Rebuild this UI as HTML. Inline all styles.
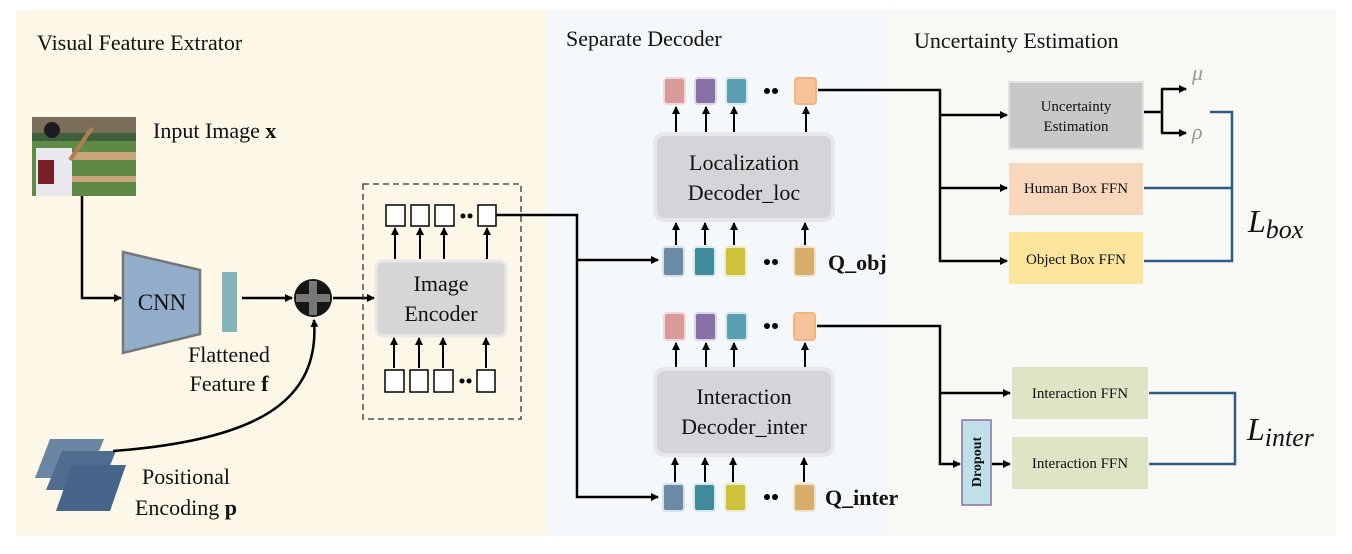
<!DOCTYPE html>
<html><head><meta charset="utf-8"><style>
body{margin:0;background:#fff;}
svg{display:block;}
text{font-family:"Liberation Serif",serif;fill:#111;}
</style></head><body>
<svg width="1352" height="554" viewBox="0 0 1352 554" xmlns="http://www.w3.org/2000/svg">
<defs>
<marker id="a" markerWidth="8" markerHeight="8" refX="7" refY="4" orient="auto" markerUnits="userSpaceOnUse"><path d="M0,0 L8,4 L0,8 z" fill="#000"/></marker>
</defs>
<rect x="16" y="10" width="530" height="526" fill="#fdf7e8"/>
<rect x="546" y="10" width="340" height="526" fill="#f4f8fb"/>
<rect x="886" y="10" width="450" height="526" fill="#f8f8f4"/>

<text x="37" y="50" font-size="22">Visual Feature Extrator</text>
<text x="566" y="46" font-size="22">Separate Decoder</text>
<text x="914" y="48" font-size="22">Uncertainty Estimation</text>

<!-- input image -->
<rect x="32" y="117" width="104" height="79" fill="#5f8a45"/>
<rect x="32" y="117" width="104" height="16" fill="#7a6d5a"/>
<rect x="32" y="133" width="104" height="8" fill="#3f5e3a"/>
<rect x="60" y="152" width="76" height="8" fill="#c9a37a"/>
<rect x="70" y="176" width="66" height="6" fill="#c9a37a"/>
<rect x="36" y="148" width="36" height="48" fill="#e8e8ee"/>
<rect x="38" y="160" width="16" height="24" fill="#7a1f25"/>
<circle cx="52" cy="130" r="8" fill="#1c1c22"/>
<line x1="70" y1="160" x2="92" y2="128" stroke="#b08050" stroke-width="4"/>
<text x="153" y="138" font-size="22">Input Image <tspan font-weight="bold">x</tspan></text>

<path d="M82,196 V298 H121" stroke="#000" stroke-width="2.5" fill="none" marker-end="url(#a)"/>
<polygon points="123,252 200,270 200,334 123,353" fill="#92aecb" stroke="#777" stroke-width="2.5"/>
<text x="162" y="310" font-size="23" text-anchor="middle">CNN</text>
<rect x="222" y="272" width="15" height="60" fill="#84b5ba"/>
<path d="M242,298 H292" stroke="#000" stroke-width="2.5" marker-end="url(#a)"/>
<circle cx="313" cy="298" r="19" fill="#151515"/>
<rect x="309" y="281" width="8" height="34" fill="#777"/>
<rect x="296" y="294" width="34" height="8" fill="#777"/>
<text x="229" y="362" font-size="22" text-anchor="middle">Flattened</text>
<text x="229" y="391" font-size="22" text-anchor="middle">Feature <tspan font-weight="bold">f</tspan></text>
<path d="M333,298 H374" stroke="#000" stroke-width="2.5" marker-end="url(#a)"/>

<!-- positional encoding -->
<polygon points="50,439 104,439 88,478 35,478" fill="#6b86a3"/>
<polygon points="62,451 116,451 100,490 46,490" fill="#4f6d8f"/>
<polygon points="72,465 126,465 110,511 56,511" fill="#47658a"/>
<path d="M113,451 C260,440 320,400 314,320" stroke="#000" stroke-width="2.5" fill="none" marker-end="url(#a)"/>
<text x="186" y="484" font-size="22" text-anchor="middle">Positional</text>
<text x="186" y="515" font-size="22" text-anchor="middle">Encoding <tspan font-weight="bold">p</tspan></text>

<!-- encoder -->
<rect x="363" y="184" width="158" height="235" fill="none" stroke="#333" stroke-width="1.3" stroke-dasharray="6,4"/>
<rect x="376" y="261" width="130" height="75" rx="7" fill="#d6d6d6" stroke="#e8e8e8" stroke-width="3"/>
<text x="441" y="291" font-size="22" text-anchor="middle">Image</text>
<text x="441" y="321" font-size="22" text-anchor="middle">Encoder</text>
<g fill="#fff" stroke="#000" stroke-width="1.5">
<rect x="386" y="205" width="19" height="21"/><rect x="411" y="205" width="18" height="21"/><rect x="435" y="205" width="19" height="21"/><rect x="478" y="205" width="18" height="21"/>
<rect x="385" y="370" width="19" height="22"/><rect x="410" y="370" width="18" height="22"/><rect x="434" y="370" width="19" height="22"/><rect x="477" y="370" width="18" height="22"/>
</g>
<g fill="#000"><circle cx="463" cy="216" r="2.5"/><circle cx="470" cy="216" r="2.5"/><circle cx="462" cy="381" r="2.5"/><circle cx="469" cy="381" r="2.5"/></g>
<g stroke="#000" stroke-width="2" marker-end="url(#a)">
<line x1="395" y1="259" x2="395" y2="228"/><line x1="420" y1="259" x2="420" y2="228"/><line x1="444" y1="259" x2="444" y2="228"/><line x1="487" y1="259" x2="487" y2="228"/>
<line x1="394" y1="368" x2="394" y2="338"/><line x1="419" y1="368" x2="419" y2="338"/><line x1="443" y1="368" x2="443" y2="338"/><line x1="486" y1="368" x2="486" y2="338"/>
</g>

<path d="M496,215 H577 V497 H658" stroke="#000" stroke-width="2.5" fill="none" marker-end="url(#a)"/>
<path d="M577,260 H658" stroke="#000" stroke-width="2.5" fill="none" marker-end="url(#a)"/>

<!-- decoders -->
<g stroke-width="2">
<rect x="664" y="78" width="21" height="26" rx="3" fill="#d99a99" stroke="#f0d8d6"/>
<rect x="695" y="78" width="21" height="26" rx="3" fill="#8a70a8" stroke="#ddd5e6"/>
<rect x="726" y="78" width="21" height="26" rx="3" fill="#5a9fb2" stroke="#d6e8ec"/>
<rect x="795" y="78" width="21" height="26" rx="3" fill="#f8c29a" stroke="#f4b27f"/>
<rect x="663" y="247" width="21" height="29" rx="3" fill="#6b8aa3" stroke="#d6e0e8"/>
<rect x="694" y="247" width="21" height="29" rx="3" fill="#418a99" stroke="#d6e8ec"/>
<rect x="725" y="247" width="21" height="29" rx="3" fill="#cdc33a" stroke="#efeccd"/>
<rect x="794" y="247" width="21" height="29" rx="3" fill="#d6ad6a" stroke="#f0e3cc"/>
<rect x="664" y="313" width="21" height="27" rx="3" fill="#d99a99" stroke="#f0d8d6"/>
<rect x="695" y="313" width="21" height="27" rx="3" fill="#8a70a8" stroke="#ddd5e6"/>
<rect x="726" y="313" width="21" height="27" rx="3" fill="#5a9fb2" stroke="#d6e8ec"/>
<rect x="794" y="313" width="21" height="27" rx="3" fill="#f8c29a" stroke="#f4b27f"/>
<rect x="663" y="484" width="21" height="27" rx="3" fill="#6b8aa3" stroke="#d6e0e8"/>
<rect x="694" y="484" width="21" height="27" rx="3" fill="#418a99" stroke="#d6e8ec"/>
<rect x="725" y="484" width="21" height="27" rx="3" fill="#cdc33a" stroke="#efeccd"/>
<rect x="794" y="484" width="21" height="27" rx="3" fill="#d6ad6a" stroke="#f0e3cc"/>
</g>
<g fill="#000">
<circle cx="767" cy="91" r="3"/><circle cx="775" cy="91" r="3"/>
<circle cx="767" cy="262" r="3"/><circle cx="775" cy="262" r="3"/>
<circle cx="767" cy="326" r="3"/><circle cx="775" cy="326" r="3"/>
<circle cx="767" cy="497" r="3"/><circle cx="775" cy="497" r="3"/>
</g>
<rect x="655" y="134" width="178" height="86" rx="9" fill="#d3d5d8" stroke="#e6e7ea" stroke-width="4"/>
<text x="744" y="170" font-size="22" text-anchor="middle">Localization</text>
<text x="744" y="200" font-size="22" text-anchor="middle">Decoder_loc</text>
<rect x="655" y="369" width="178" height="86" rx="9" fill="#d3d5d8" stroke="#e6e7ea" stroke-width="4"/>
<text x="744" y="404" font-size="22" text-anchor="middle">Interaction</text>
<text x="744" y="434" font-size="22" text-anchor="middle">Decoder_inter</text>
<text x="828" y="270" font-size="22" font-weight="bold">Q_obj</text>
<text x="825" y="505" font-size="22" font-weight="bold">Q_inter</text>
<g stroke="#000" stroke-width="2" marker-end="url(#a)">
<line x1="676" y1="132" x2="676" y2="107"/><line x1="706" y1="132" x2="706" y2="107"/><line x1="734" y1="132" x2="734" y2="107"/><line x1="806" y1="132" x2="806" y2="107"/>
<line x1="676" y1="245" x2="676" y2="223"/><line x1="705" y1="245" x2="705" y2="223"/><line x1="734" y1="245" x2="734" y2="223"/><line x1="805" y1="245" x2="805" y2="223"/>
<line x1="676" y1="367" x2="676" y2="343"/><line x1="706" y1="367" x2="706" y2="343"/><line x1="734" y1="367" x2="734" y2="343"/><line x1="805" y1="367" x2="805" y2="343"/>
<line x1="675" y1="482" x2="675" y2="458"/><line x1="705" y1="482" x2="705" y2="458"/><line x1="733" y1="482" x2="733" y2="458"/><line x1="804" y1="482" x2="804" y2="458"/>
</g>

<!-- uncertainty -->
<path d="M818,90 H940 V261 H1007" stroke="#000" stroke-width="2.5" fill="none" marker-end="url(#a)"/>
<path d="M940,115 H1007" stroke="#000" stroke-width="2.5" fill="none" marker-end="url(#a)"/>
<path d="M940,188 H1007" stroke="#000" stroke-width="2.5" fill="none" marker-end="url(#a)"/>
<rect x="1009" y="82" width="134" height="67" fill="#c8c8c8" stroke="#e2e2e2" stroke-width="2"/>
<text x="1076" y="111" font-size="15" text-anchor="middle">Uncertainty</text>
<text x="1076" y="131" font-size="15" text-anchor="middle">Estimation</text>
<rect x="1009" y="163" width="134" height="52" fill="#f7d8bd"/>
<text x="1076" y="193" font-size="15" text-anchor="middle">Human Box FFN</text>
<rect x="1009" y="232" width="134" height="52" fill="#fbe49c"/>
<text x="1076" y="264" font-size="15" text-anchor="middle">Object Box FFN</text>
<path d="M1144,112 H1162 M1162,89 V133" stroke="#000" stroke-width="2.5" fill="none"/>
<path d="M1161,89 H1186" stroke="#000" stroke-width="2.5" marker-end="url(#a)"/>
<path d="M1161,133 H1186" stroke="#000" stroke-width="2.5" marker-end="url(#a)"/>
<text x="1192" y="80" font-size="22" font-style="italic" style="fill:#999">μ</text>
<text x="1192" y="139" font-size="22" font-style="italic" style="fill:#999">ρ</text>
<path d="M1210,112 H1232 V261 H1144 M1144,188 H1232" stroke="#2f5b8a" stroke-width="2.5" fill="none"/>
<text x="1248" y="232" font-size="32" font-style="italic">L<tspan font-size="26" dy="6">box</tspan></text>

<!-- interaction -->
<path d="M817,326 H940 V464 H960" stroke="#000" stroke-width="2.5" fill="none" marker-end="url(#a)"/>
<path d="M940,393 H1010" stroke="#000" stroke-width="2.5" fill="none" marker-end="url(#a)"/>
<rect x="962" y="420" width="29" height="85" fill="#bfe0e8" stroke="#8c6fa8" stroke-width="1.5"/>
<text x="981" y="462" font-size="14" font-weight="bold" text-anchor="middle" transform="rotate(-90 981 462)">Dropout</text>
<path d="M992,464 H1010" stroke="#000" stroke-width="2.5" marker-end="url(#a)"/>
<rect x="1012" y="367" width="136" height="52" fill="#dde5c4"/>
<text x="1080" y="398" font-size="15" text-anchor="middle">Interaction FFN</text>
<rect x="1012" y="437" width="136" height="52" fill="#dde5c4"/>
<text x="1080" y="468" font-size="15" text-anchor="middle">Interaction FFN</text>
<path d="M1149,393 H1235 V464 H1149" stroke="#2f5b8a" stroke-width="2.5" fill="none"/>
<text x="1247" y="440" font-size="32" font-style="italic">L<tspan font-size="26" dy="6">inter</tspan></text>
</svg>
</body></html>
